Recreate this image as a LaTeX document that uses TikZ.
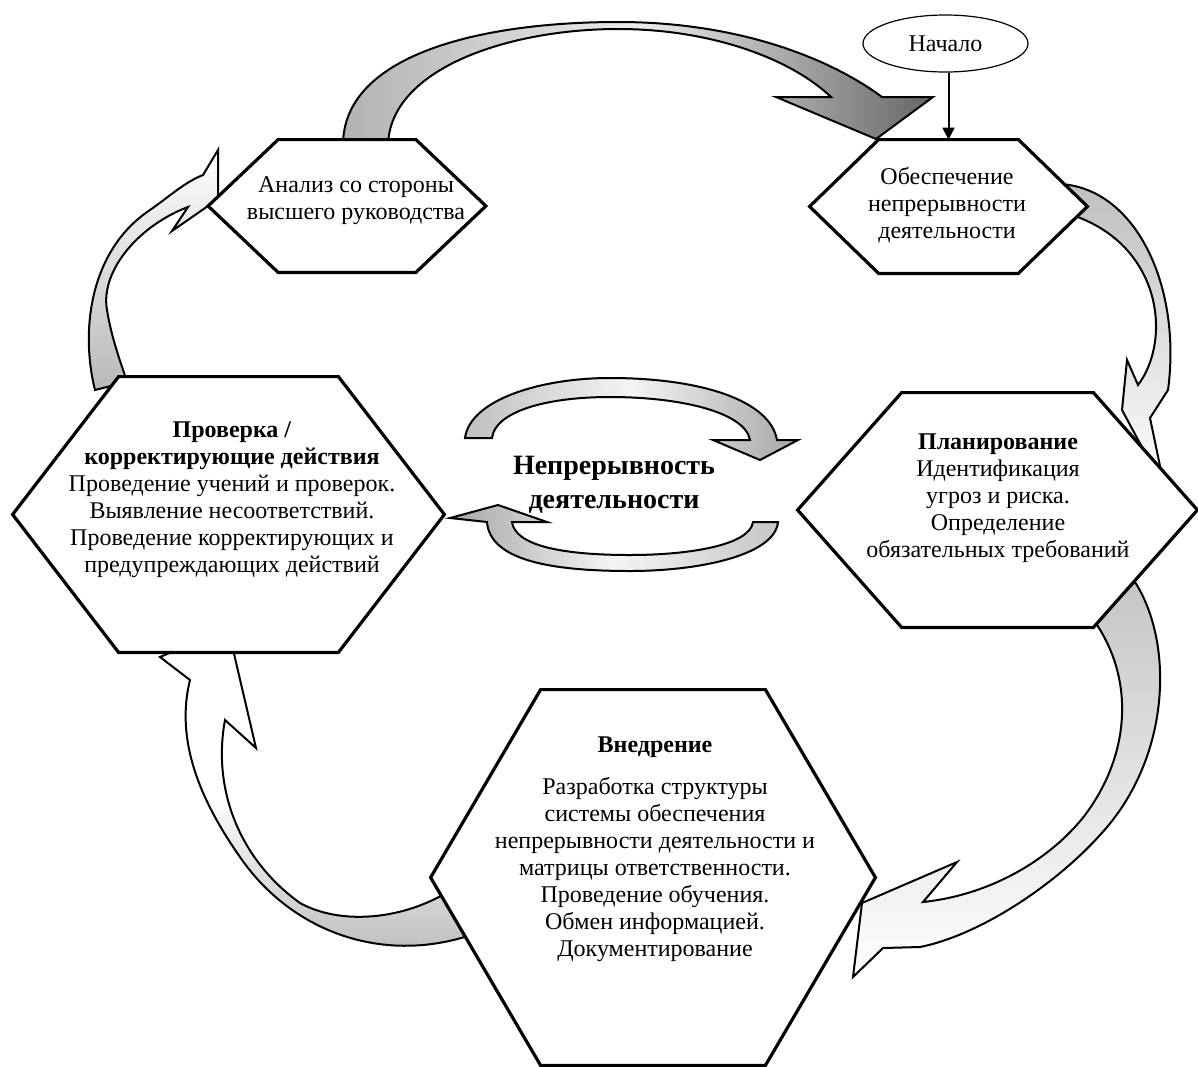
\documentclass[tikz,border=0pt]{standalone}
\usepackage{fontspec}
\setmainfont{Liberation Serif}
\usetikzlibrary{calc}
\usetikzlibrary{backgrounds}
\usetikzlibrary{arrows.meta}
\usetikzlibrary{shapes.geometric}

\begin{document}
\begin{tikzpicture}[x=0.5pt,y=-0.5pt,
    hexframe/.style={inner sep=0pt},
    hexline/.style={draw=black,line width=1.6pt,fill=white},
    blockarrow/.style={draw=black,line width=1pt},
    txt/.style={align=center,font=\fontsize{12}{13.5}\selectfont}]
    \useasboundingbox (0,0) rectangle (1198,1066);

    % Hexagon frames
    \node[hexframe,minimum width=138.5pt,minimum height=66pt] (anal) at (347,206) {};
    \node[hexframe,minimum width=138.5pt,minimum height=66.5pt] (obes) at (948.5,206.5) {};
    \node[hexframe,minimum width=215.5pt,minimum height=137.5pt] (prov) at (228.5,514.5) {};
    \node[hexframe,minimum width=199.5pt,minimum height=117pt] (plan) at (997.5,510) {};
    \node[hexframe,minimum width=222pt,minimum height=187.5pt] (vned) at (653,877.5) {};

    % Texts
    \node[txt] (analtxt) at (356,201) {Анализ со стороны\\высшего руководства};
    \node[txt] (obestxt) at (947,205) {Обеспечение\\непрерывности\\деятельности};
    \node[txt] (provtxt) at (232,500) {\textbf{Проверка /}\\\textbf{корректирующие действия}\\Проведение учений и проверок.\\Выявление несоответствий.\\Проведение корректирующих и\\предупреждающих действий};
    \node[txt] (plantxt) at (998,498) {\textbf{Планирование}\\Идентификация\\угроз и риска.\\Определение\\обязательных требований};
    \node[txt] (vnedhead) at (655,747) {\textbf{Внедрение}};
    \node[txt] (vnedtxt) at (655,869) {Разработка структуры\\системы обеспечения\\непрерывности деятельности и\\матрицы ответственности.\\Проведение обучения.\\Обмен информацией.\\Документирование};
    \node[align=center,font=\fontsize{14}{17}\selectfont\bfseries] (cycle) at (614,485) {Непрерывность\\деятельности};

    % Start
    \node[txt,draw,ellipse,line width=0.6pt,minimum width=82.5pt,minimum height=28.5pt] (nachalo) at (945.5,43.5) {Начало};
    \draw[line width=1pt,-{Triangle[length=6pt,width=6pt]}] (nachalo.south -| obes.north) -- (obes.north);

    \begin{scope}[on background layer]
        % Top arrow
        \draw[blockarrow,left color=gray!60,right color=black!60,middle color=gray!15]
            (343,145) .. controls (343,55) and (480,22) .. (618,22)
            .. controls (745,22) and (835,62) .. (882,97)
            -- (933,97) -- (876,139) -- (776,97) -- (831,97)
            .. controls (790,58) and (710,29) .. (618,29)
            .. controls (510,29) and (390,68) .. (388,145) -- cycle;
        % Right upper arrow
        \draw[blockarrow,top color=gray!50,bottom color=white]
            (1060,184) .. controls (1135,188) and (1182,285) .. (1168,390)
            -- (1150,418) -- (1165,490) -- (1122,410) -- (1127,360) -- (1138,385)
            .. controls (1172,340) and (1162,245) .. (1072,215) -- cycle;
        % Right lower arrow
        \draw[blockarrow,top color=gray!45,bottom color=white]
            (1135,582) .. controls (1175,645) and (1170,760) .. (1100,835)
            .. controls (1055,885) and (980,935) .. (920,947)
            -- (883,948) -- (853,977) -- (862,903) -- (957,862) -- (923,902)
            .. controls (990,895) and (1050,860) .. (1085,815)
            .. controls (1130,755) and (1135,680) .. (1095,622) -- cycle;
        % Left lower arrow
        \draw[blockarrow,top color=white,bottom color=gray!55,middle color=white]
            (471,935) .. controls (380,965) and (290,930) .. (240,857)
            .. controls (200,800) and (175,740) .. (190,680)
            -- (160,657) -- (228,628) -- (256,748) -- (225,720)
            .. controls (212,790) and (240,860) .. (300,903)
            .. controls (340,925) and (400,920) .. (446,893) -- cycle;
        % Left upper arrow
        \draw[blockarrow,top color=white,bottom color=gray!55]
            (95,390) .. controls (80,330) and (90,250) .. (150,210)
            .. controls (170,196) and (185,182) .. (203,175)
            -- (218,150) -- (218,197) -- (208,206) -- (172,231) -- (188,207)
            .. controls (140,225) and (100,270) .. (107,310)
            .. controls (112,340) and (120,360) .. (127,382) -- cycle;
        % Centre arrows
        \draw[blockarrow,left color=gray!50,right color=gray!70,middle color=gray!8]
            (465,438) .. controls (470,400) and (540,378) .. (610,378)
            .. controls (700,378) and (770,400) .. (777,440)
            -- (798,440) -- (760,460) -- (713,440) -- (750,440)
            .. controls (745,412) and (680,397) .. (610,397)
            .. controls (545,397) and (495,412) .. (492,438) -- cycle;
        \draw[blockarrow,left color=gray!70,right color=gray!45,middle color=gray!8]
            (778,522) .. controls (775,555) and (700,571) .. (630,571)
            .. controls (550,571) and (490,560) .. (487,522)
            -- (450,518) -- (498,505) -- (547,522) -- (512,522)
            .. controls (515,545) and (560,555) .. (630,555)
            .. controls (690,555) and (750,545) .. (753,522) -- cycle;

        % Hexagons
        \foreach \n/\d in {anal/70,obes/69,prov/106,plan/104,vned/110}
            \draw[hexline] (\n.west) -- ($(\n.north west)+(\d,0)$) -- ($(\n.north east)+(-\d,0)$)
                -- (\n.east) -- ($(\n.south east)+(-\d,0)$) -- ($(\n.south west)+(\d,0)$) -- cycle;
    \end{scope}
\end{tikzpicture}
\end{document}
